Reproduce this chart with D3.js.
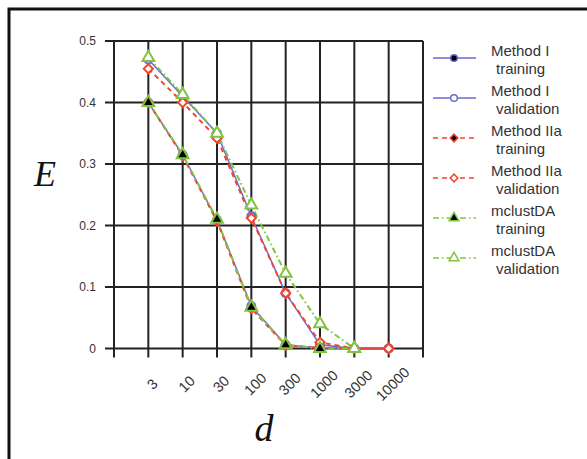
<!DOCTYPE html>
<html lang="en">
<head>
<meta charset="UTF-8">
<title>E vs d</title>
<script src="https://d3js.org/d3.v7.min.js"></script>
<style>
  body { margin: 0; background: #fff; }
  svg { display: block; font-family: "Liberation Sans", Arial, sans-serif; }
  .grid line { stroke: #222; stroke-width: 2; }
  .tick-label { fill: #333; font-size: 12px; }
  .legend-text { fill: #333; font-size: 15px; }
</style>
</head>
<body>
<div id="chart"></div>
<script>
// categories and values
const dims = ["3", "10", "30", "100", "300", "1000", "3000", "10000"];
const yTicks = [0, 0.1, 0.2, 0.3, 0.4, 0.5];

const methodITrain = [0.40, 0.315, 0.209, 0.069, 0.006, 0.001, 0, 0];
const methodIValid = [0.47, 0.41, 0.35, 0.215, 0.09, 0.006, 0, 0];
const methodIIaTrain = [0.40, 0.313, 0.207, 0.065, 0.005, 0.001, 0, 0];
const methodIIaValid = [0.455, 0.40, 0.342, 0.212, 0.09, 0.01, 0, 0];
const mclustTrain = [0.40, 0.315, 0.21, 0.067, 0.006, 0, 0];
const mclustValid = [0.473, 0.413, 0.35, 0.233, 0.122, 0.04, 0];

const blue = "#6a6ad2", red = "#f2472a", green = "#82c341";

const series = [
  { name: ["Method I", "training"], values: methodITrain, color: blue, dash: null, width: 1.5, shape: d3.symbolCircle, size: 50, rot: 0, fill: "#000" },
  { name: ["Method I", "validation"], values: methodIValid, color: blue, dash: null, width: 1.5, shape: d3.symbolCircle, size: 50, rot: 0, fill: "#fff" },
  { name: ["Method IIa", "training"], values: methodIIaTrain, color: red, dash: "5,4", width: 2, shape: d3.symbolSquare, size: 42, rot: 45, fill: "#000" },
  { name: ["Method IIa", "validation"], values: methodIIaValid, color: red, dash: "5,4", width: 2, shape: d3.symbolSquare, size: 42, rot: 45, fill: "#fff" },
  { name: ["mclustDA", "training"], values: mclustTrain, color: green, dash: "6,3,1.5,3", width: 2, shape: d3.symbolTriangle, size: 60, rot: 0, fill: "#000" },
  { name: ["mclustDA", "validation"], values: mclustValid, color: green, dash: "6,3,1.5,3", width: 2, shape: d3.symbolTriangle, size: 60, rot: 0, fill: "#fff" }
];

const width = 587, height = 459;
const svg = d3.select("#chart").append("svg")
  .attr("width", width)
  .attr("height", height);

// outer frame
svg.append("rect")
  .attr("x", 9).attr("y", 9)
  .attr("width", 620).attr("height", 500)
  .attr("fill", "none")
  .attr("stroke", "#111")
  .attr("stroke-width", 3);

const x = d3.scalePoint().domain(dims).range([114, 423]).padding(1);
const y = d3.scaleLinear().domain([0, 0.5]).range([348.5, 41]);

// grid
const grid = svg.append("g").attr("class", "grid");
grid.selectAll(".v")
  .data(["_l"].concat(dims, ["_r"]))
  .enter().append("line")
  .attr("x1", (d, i) => 114 + i * x.step())
  .attr("x2", (d, i) => 114 + i * x.step())
  .attr("y1", y(0.5))
  .attr("y2", y(0) + 9);
grid.selectAll(".h")
  .data(yTicks)
  .enter().append("line")
  .attr("x1", 105)
  .attr("x2", 423)
  .attr("y1", d => y(d))
  .attr("y2", d => y(d));

// y tick labels
svg.selectAll(".ylab")
  .data(yTicks)
  .enter().append("text")
  .attr("class", "tick-label")
  .attr("x", 96)
  .attr("y", d => y(d))
  .attr("dy", "0.35em")
  .attr("text-anchor", "end")
  .text(d => d === 0 ? "0" : d3.format(".1f")(d));

// x tick labels
svg.selectAll(".xlab")
  .data(dims)
  .enter().append("text")
  .attr("class", "tick-label")
  .style("font-size", "14.5px")
  .attr("text-anchor", "middle")
  .attr("dy", "0.35em")
  .attr("transform", d => `translate(${x(d) + 4},384) rotate(-45)`)
  .text(d => d);

// axis titles
svg.append("text")
  .attr("x", 45).attr("y", 186)
  .attr("text-anchor", "middle")
  .attr("font-family", "'Liberation Serif', 'DejaVu Serif', serif")
  .attr("font-style", "italic")
  .attr("font-size", "36px")
  .attr("fill", "#111")
  .text("E");
svg.append("text")
  .attr("x", 264).attr("y", 441)
  .attr("text-anchor", "middle")
  .attr("font-family", "'Liberation Serif', 'DejaVu Serif', serif")
  .attr("font-style", "italic")
  .attr("font-size", "38px")
  .attr("fill", "#111")
  .text("d");

// lines and markers
const line = d3.line()
  .x((d, i) => x(dims[i]))
  .y(d => y(d));

series.forEach(s => {
  svg.append("path")
    .datum(s.values)
    .attr("fill", "none")
    .attr("stroke", s.color)
    .attr("stroke-width", s.width)
    .attr("stroke-dasharray", s.dash)
    .attr("d", line);
});

series.forEach(s => {
  svg.selectAll(null)
    .data(s.values)
    .enter().append("path")
    .attr("transform", (d, i) => `translate(${x(dims[i])},${y(d)}) rotate(${s.rot})`)
    .attr("d", d3.symbol().type(s.shape).size(s.size))
    .attr("fill", s.fill)
    .attr("stroke", s.color)
    .attr("stroke-width", 2);
});

// legend
const legend = svg.selectAll(".legend")
  .data(series)
  .enter().append("g")
  .attr("transform", (d, i) => `translate(0,${58 + i * 40})`);

legend.append("line")
  .attr("x1", 433).attr("x2", 476)
  .attr("y1", 0).attr("y2", 0)
  .attr("stroke", d => d.color)
  .attr("stroke-width", 1.5)
  .attr("stroke-dasharray", d => d.dash);

legend.append("path")
  .attr("transform", d => `translate(454,0) rotate(${d.rot})`)
  .attr("d", d => d3.symbol().type(d.shape).size(d.size * 0.7)())
  .attr("fill", d => d.fill)
  .attr("stroke", d => d.color)
  .attr("stroke-width", 1.5);

legend.append("text")
  .attr("class", "legend-text")
  .attr("x", 491).attr("y", -2)
  .text(d => d.name[0]);

legend.append("text")
  .attr("class", "legend-text")
  .attr("x", 496).attr("y", 16)
  .text(d => d.name[1]);
</script>
</body>
</html>
